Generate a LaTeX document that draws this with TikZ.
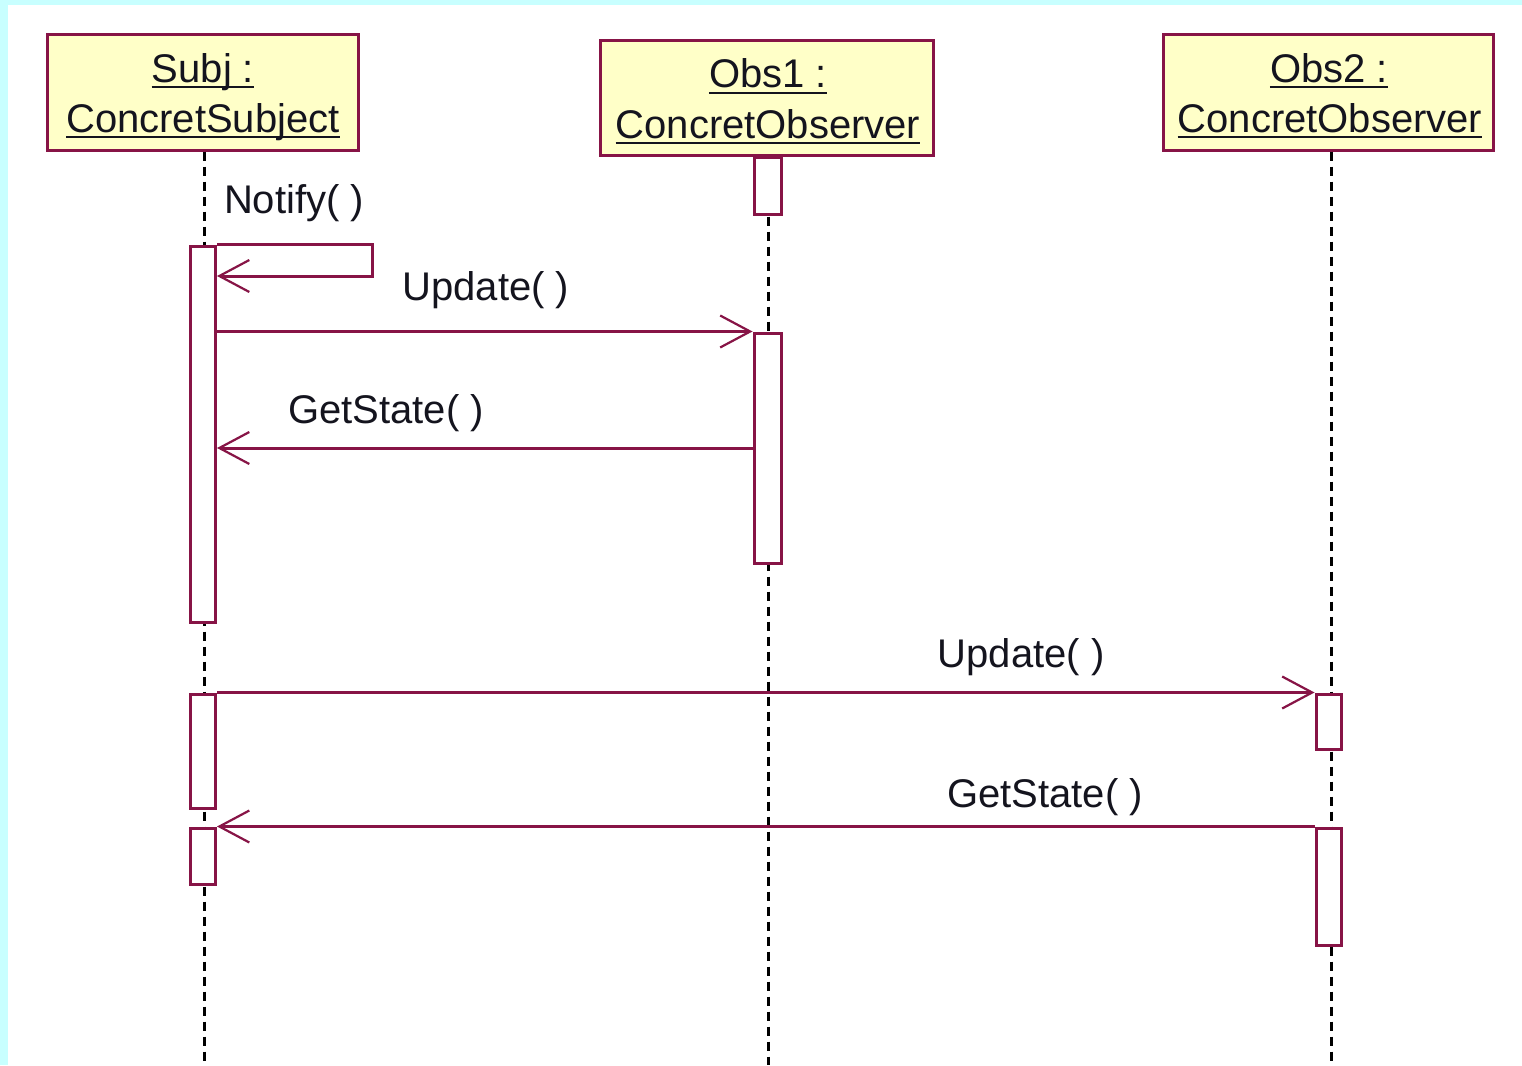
\documentclass[tikz,border=0pt]{standalone}
\usepackage{fontspec}
\setmainfont{Liberation Sans}
\usetikzlibrary{arrows.meta}
\definecolor{bgcyan}{RGB}{200,255,255}
\definecolor{boxfill}{RGB}{255,255,200}
\definecolor{umlline}{RGB}{135,20,70}
\definecolor{txt}{RGB}{20,20,30}
\tikzset{
  objbox/.style={draw=umlline, fill=boxfill, line width=3pt, inner sep=0pt},
  bar/.style={draw=umlline, fill=white, line width=3pt, inner sep=0pt, minimum width=25pt},
  lifeline/.style={black, line width=3pt, dash pattern=on 9pt off 6pt},
  msg/.style={draw=umlline, line width=3pt, -{Straight Barb[length=30pt,width=32pt,line width=2.2pt]}},
  lbl/.style={inner sep=0pt, text=txt, font=\fontsize{40}{48}\selectfont},
  ttl/.style={inner sep=0pt, anchor=base, text=txt, font=\fontsize{40}{48}\selectfont},
  uline/.style={txt, line width=2.2pt}
}
\begin{document}
\begin{tikzpicture}[x=1pt,y=-1pt]
\useasboundingbox (0,0) rectangle (1522,1065);
\fill[bgcyan] (0,0) rectangle (1522,1065);
\fill[white] (8,5) rectangle (1522,1065);

% object boxes
\node[objbox, minimum width=311pt, minimum height=115pt] (s) at (202.5,92.5) {};
\node[objbox, minimum width=333pt, minimum height=114pt] (o1) at (766.5,98) {};
\node[objbox, minimum width=330pt, minimum height=115pt] (o2) at (1328,92.5) {};

% titles
\node[ttl] (sa) at (203,82) {Subj :\ };
\node[ttl] (sb) at (203,132) {ConcretSubject};
\node[ttl] (oa) at (768,88) {Obs1 :\ };
\node[ttl] (ob) at (768,138) {ConcretObserver};
\node[ttl] (pa) at (1329,82) {Obs2 :\ };
\node[ttl] (pb) at (1330,132) {ConcretObserver};
\foreach \n in {sa,sb,oa,ob,pa,pb}
  \draw[uline] ([yshift=-5pt]\n.base west) -- ([yshift=-5pt]\n.base east);

% lifelines
\coordinate (se) at (204,1065);
\coordinate (oe) at (768,1065);
\coordinate (pe) at (1331,1065);
\draw[lifeline] (s.south -| se) -- (se);
\draw[lifeline] (o1.south -| oe) -- (oe);
\draw[lifeline] (o2.south -| pe) -- (pe);

% activation bars
\node[bar, minimum height=376pt] (b1) at (203,434) {};
\node[bar, minimum height=114pt] (b2) at (203,751) {};
\node[bar, minimum height=56pt] (b3) at (203,856) {};
\node[bar, minimum width=27pt, minimum height=57pt] (c1) at (767.5,185.5) {};
\node[bar, minimum width=27pt, minimum height=230pt] (c2) at (767.5,448) {};
\node[bar, minimum height=55pt] (d1) at (1328.5,721.5) {};
\node[bar, minimum height=117pt] (d2) at (1328.5,886.5) {};

% messages
\coordinate (nr) at (372,276);
\coordinate (g1) at (0,448);
\draw[msg] (b1.north east) -| (nr) -- (b1.east |- nr);
\draw[msg] (b1.east |- c2.north) -- (c2.north west);
\draw[msg] (c2.west |- g1) -- (b1.east |- g1);
\draw[msg] (b2.north east) -- (d1.north west);
\draw[msg] (d2.north west) -- (b3.north east);

% labels
\node[lbl] (ln) at (294,203) {Notify( )};
\node[lbl] (lu1) at (486,290) {Update( )};
\node[lbl] (lg1) at (386,413) {GetState( )};
\node[lbl] (lu2) at (1021,657) {Update( )};
\node[lbl] (lg2) at (1045,797) {GetState( )};
\end{tikzpicture}
\end{document}
